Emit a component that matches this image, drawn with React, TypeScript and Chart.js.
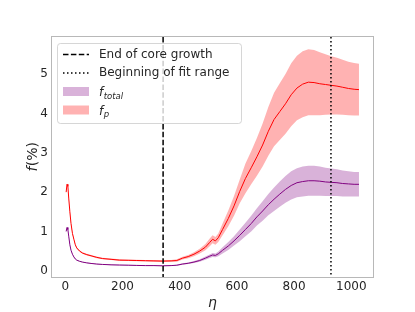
import React, { useEffect, useRef } from 'react';
import { Chart, registerables } from 'chart.js';
Chart.register(...registerables);

const eta = [3, 6, 9, 12, 16, 20, 25, 30, 35, 40, 50, 60, 75, 90, 110, 130, 160, 190, 220, 250, 280, 310, 340, 370, 390, 410, 430, 450, 470, 490, 505, 515, 525, 535, 550, 570, 590, 610, 630, 650, 670, 690, 710, 730, 750, 770, 790, 810, 830, 850, 870, 890, 910, 930, 950, 970, 990, 1010, 1027];

const fP = [2.0, 2.2, 2.15, 1.85, 1.5, 1.2, 0.95, 0.8, 0.66, 0.58, 0.5, 0.45, 0.41, 0.38, 0.34, 0.31, 0.29, 0.27, 0.265, 0.26, 0.255, 0.25, 0.245, 0.25, 0.26, 0.32, 0.36, 0.42, 0.5, 0.6, 0.72, 0.8, 0.76, 0.84, 1.05, 1.33, 1.65, 2.02, 2.35, 2.62, 2.9, 3.2, 3.55, 3.85, 4.05, 4.25, 4.48, 4.65, 4.75, 4.8, 4.79, 4.76, 4.74, 4.72, 4.7, 4.67, 4.64, 4.62, 4.61];

const fPErr = [0.02, 0.02, 0.02, 0.02, 0.02, 0.02, 0.02, 0.02, 0.02, 0.02, 0.02, 0.02, 0.02, 0.02, 0.02, 0.02, 0.02, 0.02, 0.02, 0.02, 0.02, 0.02, 0.02, 0.02, 0.03, 0.035, 0.04, 0.05, 0.06, 0.08, 0.1, 0.1, 0.1, 0.11, 0.15, 0.2, 0.25, 0.3, 0.38, 0.42, 0.48, 0.55, 0.62, 0.68, 0.72, 0.76, 0.8, 0.82, 0.84, 0.84, 0.83, 0.8, 0.77, 0.74, 0.72, 0.7, 0.68, 0.67, 0.66];

const fTotal = [1.0, 1.1, 1.05, 0.88, 0.66, 0.52, 0.42, 0.35, 0.3, 0.27, 0.24, 0.22, 0.2, 0.185, 0.17, 0.16, 0.15, 0.145, 0.14, 0.135, 0.13, 0.13, 0.125, 0.13, 0.14, 0.17, 0.19, 0.22, 0.26, 0.32, 0.37, 0.4, 0.39, 0.43, 0.52, 0.63, 0.76, 0.9, 1.05, 1.2, 1.37, 1.52, 1.68, 1.82, 1.95, 2.07, 2.17, 2.24, 2.27, 2.29, 2.29, 2.28, 2.26, 2.25, 2.24, 2.22, 2.21, 2.2, 2.2];

const fTotalErr = [0.01, 0.01, 0.01, 0.01, 0.01, 0.01, 0.01, 0.01, 0.01, 0.01, 0.01, 0.01, 0.01, 0.01, 0.01, 0.01, 0.01, 0.01, 0.01, 0.01, 0.01, 0.01, 0.01, 0.01, 0.015, 0.02, 0.02, 0.025, 0.03, 0.04, 0.045, 0.05, 0.05, 0.06, 0.08, 0.1, 0.12, 0.15, 0.17, 0.2, 0.22, 0.25, 0.27, 0.3, 0.32, 0.34, 0.36, 0.37, 0.38, 0.38, 0.38, 0.37, 0.36, 0.35, 0.34, 0.33, 0.32, 0.31, 0.31];

const xTicks = [0, 200, 400, 600, 800, 1000];
const yTicks = [0, 1, 2, 3, 4, 5];
const coreGrowthEnd = 342;
const fitStart = 929;
const legendLineLabels = ['End of core growth', 'Beginning of fit range'];
const legendBandLabels = [['f', 'total'], ['f', 'p']];

const FONT = '"DejaVu Sans", sans-serif';
const TEXT = '#262626';
const PURPLE = '#800080';
const PURPLE_FILL = 'rgba(128,0,128,0.3)';
const RED = '#ff0000';
const RED_FILL = 'rgba(255,0,0,0.3)';

const pts = (ys: number[]) => eta.map((x, i) => ({ x, y: ys[i] }));

const overlay = {
  id: 'overlay',
  afterDatasetsDraw(chart: any) {
    const { ctx, chartArea: a, scales } = chart;
    ctx.save();
    const vl = (v: number, dash: number[]) => {
      const px = scales.x.getPixelForValue(v);
      ctx.beginPath();
      ctx.setLineDash(dash);
      ctx.lineWidth = 1.5;
      ctx.strokeStyle = '#000';
      ctx.moveTo(px, a.top);
      ctx.lineTo(px, a.bottom);
      ctx.stroke();
    };
    vl(coreGrowthEnd, [5.5, 2.4]);
    vl(fitStart, [1.5, 2.5]);
    ctx.setLineDash([]);
    ctx.strokeStyle = '#b8b8b8';
    ctx.lineWidth = 1;
    ctx.strokeRect(Math.round(a.left) - 0.5, Math.round(a.top) - 0.5, Math.round(a.right - a.left) + 1, Math.round(a.bottom - a.top) + 1);
    ctx.restore();
  },
  afterDraw(chart: any) {
    const { ctx, chartArea: a } = chart;
    ctx.save();
    ctx.fillStyle = TEXT;
    ctx.textBaseline = 'middle';
    ctx.font = `italic 14px ${FONT}`;
    ctx.textAlign = 'center';
    ctx.fillText('η', (a.left + a.right) / 2, 303);
    ctx.translate(33, (a.top + a.bottom) / 2);
    ctx.rotate(-Math.PI / 2);
    ctx.font = `italic 14px ${FONT}`;
    const w1 = ctx.measureText('f').width;
    ctx.font = `14px ${FONT}`;
    const w2 = ctx.measureText('(%)').width;
    const start = -(w1 + w2) / 2;
    ctx.textAlign = 'left';
    ctx.font = `italic 14px ${FONT}`;
    ctx.fillText('f', start, 0);
    ctx.font = `14px ${FONT}`;
    ctx.fillText('(%)', start + w1 + 0.5, 0);
    ctx.setTransform(1, 0, 0, 1, 0, 0);

    const bx = 57.5, by = 43.5, bw = 184, bh = 80, r = 3;
    ctx.beginPath();
    ctx.moveTo(bx + r, by);
    ctx.lineTo(bx + bw - r, by);
    ctx.quadraticCurveTo(bx + bw, by, bx + bw, by + r);
    ctx.lineTo(bx + bw, by + bh - r);
    ctx.quadraticCurveTo(bx + bw, by + bh, bx + bw - r, by + bh);
    ctx.lineTo(bx + r, by + bh);
    ctx.quadraticCurveTo(bx, by + bh, bx, by + bh - r);
    ctx.lineTo(bx, by + r);
    ctx.quadraticCurveTo(bx, by, bx + r, by);
    ctx.closePath();
    ctx.fillStyle = 'rgba(255,255,255,0.8)';
    ctx.fill();
    ctx.strokeStyle = 'rgba(204,204,204,0.8)';
    ctx.lineWidth = 1;
    ctx.stroke();

    const rows = [54.5, 73, 91.5, 110];
    const hx0 = 63, hx1 = 89, tx = 99;
    const dashes = [[5.5, 2.4], [1.5, 2.5]];
    legendLineLabels.forEach((lab, i) => {
      ctx.beginPath();
      ctx.setLineDash(dashes[i]);
      ctx.lineWidth = 1.5;
      ctx.strokeStyle = '#000';
      ctx.moveTo(hx0, rows[i]);
      ctx.lineTo(hx1, rows[i]);
      ctx.stroke();
      ctx.setLineDash([]);
      ctx.fillStyle = TEXT;
      ctx.font = `12px ${FONT}`;
      ctx.textAlign = 'left';
      ctx.textBaseline = 'middle';
      ctx.fillText(lab, tx, rows[i]);
    });
    const fills = [PURPLE_FILL, RED_FILL];
    legendBandLabels.forEach((lab, j) => {
      const y = rows[2 + j];
      ctx.fillStyle = fills[j];
      ctx.fillRect(hx0, y - 4.5, hx1 - hx0, 9);
      ctx.fillStyle = TEXT;
      ctx.textAlign = 'left';
      ctx.textBaseline = 'alphabetic';
      ctx.font = `italic 12px ${FONT}`;
      const base = y + 4.5;
      ctx.fillText(lab[0], tx, base);
      const fw = ctx.measureText(lab[0]).width;
      ctx.font = `italic 8.5px ${FONT}`;
      ctx.fillText(lab[1], tx + fw + 0.5, base + 2.5);
    });
    ctx.restore();
  },
};

export default function App() {
  const ref = useRef<HTMLCanvasElement>(null);
  useEffect(() => {
    document.body.style.margin = '0';
    const chart = new Chart(ref.current!, {
      type: 'line',
      data: {
        datasets: [
          { data: pts(fTotal.map((v, i) => v + fTotalErr[i])), borderWidth: 0, pointRadius: 0, backgroundColor: PURPLE_FILL, fill: '+1' },
          { data: pts(fTotal.map((v, i) => v - fTotalErr[i])), borderWidth: 0, pointRadius: 0, fill: false },
          { data: pts(fP.map((v, i) => v + fPErr[i])), borderWidth: 0, pointRadius: 0, backgroundColor: RED_FILL, fill: '+1' },
          { data: pts(fP.map((v, i) => v - fPErr[i])), borderWidth: 0, pointRadius: 0, fill: false },
          { data: pts(fTotal), borderColor: PURPLE, borderWidth: 1, pointRadius: 0, fill: false },
          { data: pts(fP), borderColor: RED, borderWidth: 1, pointRadius: 0, fill: false },
        ],
      },
      options: {
        animation: false,
        responsive: false,
        layout: { padding: { top: 37, right: 42, left: 0, bottom: 0 } },
        plugins: { legend: { display: false }, tooltip: { enabled: false } },
        elements: { line: { tension: 0 } },
        scales: {
          x: {
            type: 'linear',
            min: -46.5,
            max: 1076,
            grid: { display: false, drawTicks: false },
            border: { display: false },
            afterBuildTicks: (s: any) => { s.ticks = xTicks.map((v) => ({ value: v })); },
            afterFit: (s: any) => { s.height = 35; },
            ticks: { color: TEXT, font: { family: FONT, size: 12 }, padding: 3, maxRotation: 0, callback: (v: any) => String(v) },
          },
          y: {
            type: 'linear',
            min: -0.16,
            max: 5.95,
            grid: { display: false, drawTicks: false },
            border: { display: false },
            afterBuildTicks: (s: any) => { s.ticks = yTicks.map((v) => ({ value: v })); },
            afterFit: (s: any) => { s.width = 52; },
            ticks: { color: TEXT, font: { family: FONT, size: 12 }, padding: 4, callback: (v: any) => String(v) },
          },
        },
      },
      plugins: [overlay],
    });
    return () => chart.destroy();
  }, []);
  return <canvas ref={ref} width={415} height={312} style={{ display: 'block' }} />;
}
